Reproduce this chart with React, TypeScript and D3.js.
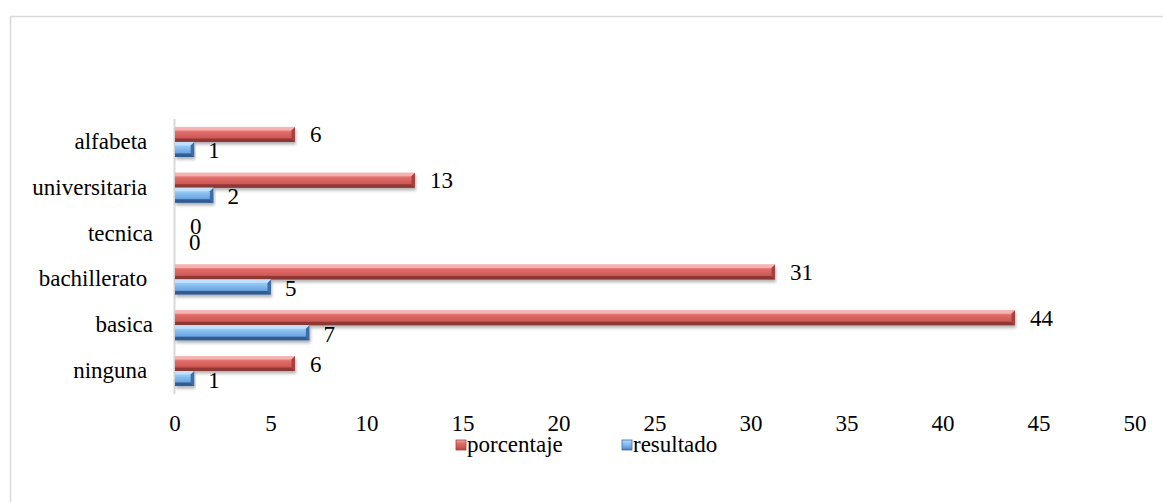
import React from "react";
import * as d3 from "d3";

const categories = ["alfabeta ", "universitaria ", "tecnica", "bachillerato ", "basica", "ninguna "];
const porcentaje = [6.25, 12.5, 0, 31.25, 43.75, 6.25];
const porcentajeLabels = ["6", "13", "0", "31", "44", "6"];
const resultado = [1, 2, 0, 5, 7, 1];
const resultadoLabels = ["1", "2", "0", "5", "7", "1"];
const xTicks = [0, 5, 10, 15, 20, 25, 30, 35, 40, 45, 50];
const seriesNames = ["porcentaje", "resultado"];

const W = 1163;
const H = 502;
const FS = 23;

const x = d3.scaleLinear().domain([0, 50]).range([175, 1135]);
const y = d3.scaleBand<string>().domain(categories).range([119, 394]).paddingInner(0).paddingOuter(0);
const BAR_H = 15;

const palettes = {
  red: { light: "#f6b8b6", dark: "#8a3533", side: "#a5423f" },
  blue: { light: "#c4e3ff", dark: "#2c578a", side: "#3d6ca6" },
};

const textStyle = { fontFamily: "Liberation Serif", fontSize: FS };

function Bar({ x0, x1, y0, h, pal, id }: { x0: number; x1: number; y0: number; h: number; pal: any; id: string }) {
  const w = x1 - x0;
  if (w <= 0) return null;
  const b = Math.min(3.5, w / 3);
  const y1 = y0 + h;
  return (
    <g filter="url(#shadow)">
      <rect x={x0} y={y0} width={w} height={h} fill={`url(#grad-${id})`} />
      <polygon points={`${x0},${y0} ${x1},${y0} ${x1 - b},${y0 + b} ${x0},${y0 + b}`} fill={pal.light} opacity={0.85} />
      <polygon points={`${x0},${y1} ${x1},${y1} ${x1 - b},${y1 - b} ${x0},${y1 - b}`} fill={pal.dark} opacity={0.9} />
      <polygon points={`${x1},${y0} ${x1},${y1} ${x1 - b},${y1 - b} ${x1 - b},${y0 + b}`} fill={pal.side} />
    </g>
  );
}

export default function App() {
  return (
    <svg width={W} height={H} style={{ position: "absolute", left: 0, top: 0 }}>
      <defs>
        <filter id="shadow" x="-5%" y="-50%" width="110%" height="220%">
          <feDropShadow dx="1" dy="2.5" stdDeviation="1.5" floodColor="#000" floodOpacity="0.3" />
        </filter>
        <linearGradient id="grad-red" x1="0" y1="0" x2="0" y2="1">
          <stop offset="0" stopColor="#f3a9a7" />
          <stop offset="0.35" stopColor="#e06b68" />
          <stop offset="0.7" stopColor="#cf5a57" />
          <stop offset="1" stopColor="#b34744" />
        </linearGradient>
        <linearGradient id="grad-blue" x1="0" y1="0" x2="0" y2="1">
          <stop offset="0" stopColor="#b6dcfb" />
          <stop offset="0.35" stopColor="#8cc3f2" />
          <stop offset="0.7" stopColor="#6fa6e2" />
          <stop offset="1" stopColor="#4a7dbd" />
        </linearGradient>
      </defs>
      <rect x={10.5} y={16.5} width={W + 20} height={H + 20} fill="none" stroke="#d9d9d9" strokeWidth={1.5} />
      <line x1={174.5} x2={174.5} y1={y.range()[0]} y2={y.range()[1]} stroke="#d9d9d9" strokeWidth={2} />
      {categories.map((c, i) => {
        const yc = (y(c) as number) + y.bandwidth() / 2;
        return (
          <g key={c}>
            <text x={153} y={yc + 7} textAnchor="end" xmlSpace="preserve" style={textStyle} fill="#000">
              {c}
            </text>
            <Bar x0={x(0)} x1={x(porcentaje[i])} y0={yc - BAR_H} h={BAR_H} pal={palettes.red} id="red" />
            <Bar x0={x(0)} x1={x(resultado[i])} y0={yc} h={BAR_H} pal={palettes.blue} id="blue" />
            <text x={x(porcentaje[i]) + 15} y={yc - BAR_H / 2 + 8} style={textStyle} fill="#000">
              {porcentajeLabels[i]}
            </text>
            <text x={x(resultado[i]) + 14} y={yc + BAR_H / 2 + 9} style={textStyle} fill="#000">
              {resultadoLabels[i]}
            </text>
          </g>
        );
      })}
      {xTicks.map((t) => (
        <text key={t} x={x(t)} y={431} textAnchor="middle" style={textStyle} fill="#000">
          {t}
        </text>
      ))}
      <g>
        <rect x={456} y={440} width={10} height={10} fill="url(#grad-red)" stroke="#a5423f" strokeWidth={0.8} />
        <text x={467} y={452} style={textStyle} fill="#000">{seriesNames[0]}</text>
        <rect x={622} y={440} width={10} height={10} fill="url(#grad-blue)" stroke="#3d6ca6" strokeWidth={0.8} />
        <text x={633} y={452} style={textStyle} fill="#000">{seriesNames[1]}</text>
      </g>
    </svg>
  );
}
